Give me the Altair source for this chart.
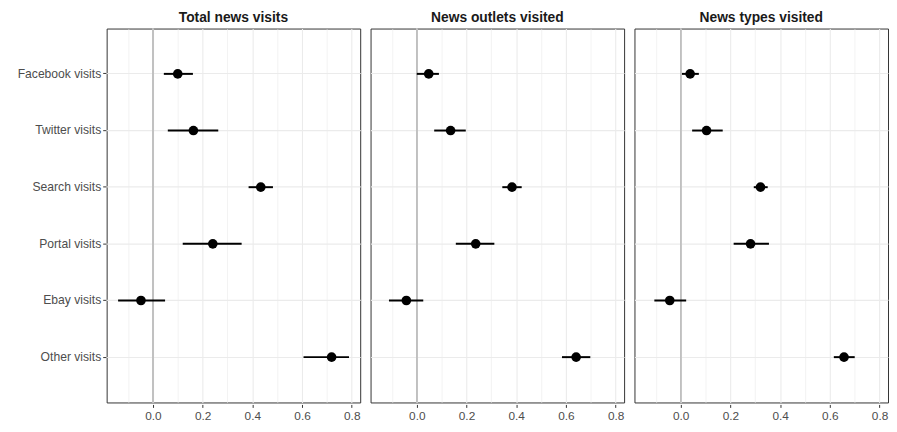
import altair as alt
import pandas as pd

categories = ["Facebook visits", "Twitter visits", "Search visits",
              "Portal visits", "Ebay visits", "Other visits"]
panels = ["Total news visits", "News outlets visited", "News types visited"]

est_total = [0.100, 0.163, 0.434, 0.241, -0.048, 0.719]
lo_total = [0.044, 0.060, 0.385, 0.120, -0.140, 0.606]
hi_total = [0.161, 0.263, 0.483, 0.357, 0.049, 0.789]

est_outlets = [0.048, 0.136, 0.383, 0.237, -0.042, 0.641]
lo_outlets = [0.000, 0.070, 0.344, 0.157, -0.112, 0.584]
hi_outlets = [0.089, 0.197, 0.422, 0.312, 0.026, 0.698]

est_types = [0.038, 0.104, 0.321, 0.281, -0.044, 0.657]
lo_types = [0.005, 0.046, 0.294, 0.213, -0.106, 0.616]
hi_types = [0.073, 0.169, 0.350, 0.355, 0.022, 0.700]

x_ticks = [-0.1, 0.0, 0.1, 0.2, 0.3, 0.4, 0.5, 0.6, 0.7, 0.8]

rows = []
for panel, est, lo, hi in zip(panels,
                              [est_total, est_outlets, est_types],
                              [lo_total, lo_outlets, lo_types],
                              [hi_total, hi_outlets, hi_types]):
    for c, e, l, h in zip(categories, est, lo, hi):
        rows.append({"panel": panel, "predictor": c, "est": e, "lo": l, "hi": h})
df = pd.DataFrame(rows)

major_test = "abs(round(datum.value * 10)) % 2 == 0"

x_axis = alt.Axis(
    title=None,
    values=x_ticks,
    grid=True,
    labelExpr="abs(round(datum.value * 10)) % 2 == 0 ? format(datum.value, '.1f') : ''",
    gridColor="#EBEBEB",
    gridWidth={"condition": {"test": major_test, "value": 1.1}, "value": 0.6},
    tickOpacity={"condition": {"test": major_test, "value": 1}, "value": 0},
    tickColor="#333333",
    tickSize=3,
    labelFontSize=12,
    labelColor="#4D4D4D",
    labelFont="Liberation Sans",
    labelPadding=3,
    domain=False,
)

y_axis = alt.Axis(
    title=None,
    grid=True,
    gridColor="#EBEBEB",
    gridWidth=1.1,
    tickColor="#333333",
    tickSize=3,
    labelFontSize=12.3,
    labelColor="#4D4D4D",
    labelFont="Liberation Sans",
    labelPadding=2,
    domain=False,
)

x_scale = alt.Scale(domain=[-0.186, 0.834], nice=False, zero=False)
y_enc = alt.Y("predictor:N", sort=categories, scale=alt.Scale(padding=0.6), axis=y_axis)

base = alt.Chart(df)

vline = base.mark_rule(color="#C0C0C0", strokeWidth=1.2).encode(
    x=alt.datum(0, scale=x_scale, axis=x_axis)
)

bars = base.mark_rule(color="black", strokeWidth=2).encode(
    x=alt.X("lo:Q", scale=x_scale, axis=x_axis),
    x2="hi:Q",
    y=y_enc,
)

points = base.mark_circle(color="black", size=95, opacity=1).encode(
    x=alt.X("est:Q", scale=x_scale, axis=x_axis),
    y=y_enc,
)

layered = alt.layer(vline, bars, points).properties(width=257, height=379)

chart = layered.facet(
    column=alt.Column(
        "panel:N",
        sort=panels,
        header=alt.Header(
            title=None,
            labelFontWeight="bold",
            labelFontSize=14,
            labelColor="#1A1A1A",
            labelFont="Liberation Sans",
            labelPadding=2,
        ),
    ),
    spacing=8.5,
).properties(
    background="white",
    padding={"left": 9, "top": 0, "right": 0, "bottom": 0},
).configure_view(
    stroke="#333333", strokeWidth=1
)

chart.save("out.html", embed_options={"renderer": "svg", "actions": False})
